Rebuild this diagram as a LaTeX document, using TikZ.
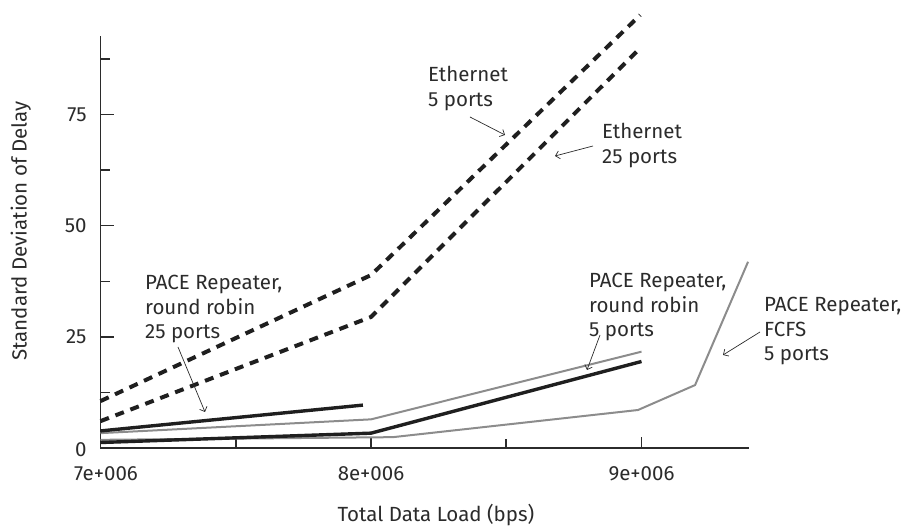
\documentclass[tikz,border=0pt]{standalone}
\usepackage{fontspec}
\setmainfont{Fira Sans}
\usepackage{xcolor}
\usetikzlibrary{arrows.meta}
\usetikzlibrary{calc}

\definecolor{inkgray}{HTML}{2B2B2B}
\definecolor{lightcurve}{HTML}{8C8C8C}

\begin{document}
\begin{tikzpicture}[x=1pt,y=1pt,
        every node/.style={font=\fontsize{20.5}{24.5}\selectfont, text=inkgray, inner sep=0pt},
        axisline/.style={line width=1.6pt, color=inkgray},
        ethline/.style={line width=4pt, dash pattern=on 9pt off 7pt, color=black!88},
        darkcurve/.style={line width=3.4pt, color=black!88},
        greycurve/.style={line width=2pt, color=lightcurve},
        pointer/.style={line width=0.7pt, color=inkgray, -{Straight Barb[length=4pt,width=8pt]}}]
        \newcommand{\delaychartox}{100.5}
        \newcommand{\delaychartoy}{80.7}
        \newcommand{\delaychartxunit}{270.5pt}
        \newcommand{\delaychartyunit}{4.452pt}
        \newcommand{\delaychartxend}{2.398}
        \newcommand{\delaychartyend}{92.5}
        \newcommand{\delaychartmajortick}{13pt}
        \newcommand{\delaychartminortick}{9pt}
        \useasboundingbox (0,0) rectangle (903,529);
        \begin{scope}[shift={(\delaychartox,\delaychartoy)}, x=\delaychartxunit, y=\delaychartyunit]
            \draw[axisline] (0,\delaychartyend) -- (0,0) -- (\delaychartxend,0);
            \foreach \ytick in {25,50,75} {
                \draw[axisline] (0,\ytick) -- ++(\delaychartmajortick,0);
                \node[anchor=east] (ylab\ytick) at ($(0,\ytick)+(-13.8pt,0)$) {\ytick};
            }
            \foreach \ytick in {12.5,37.5,62.5,87.5}
                \draw[axisline] (0,\ytick) -- ++(\delaychartminortick,0);
            \node[anchor=east] (ylab0) at ($(0,0)+(-13.8pt,-1pt)$) {0};
            \foreach \xtick in {1,2}
                \draw[axisline] (\xtick,0) -- ++(0,11pt);
            \foreach \xtick in {0.5,1.5}
                \draw[axisline] (\xtick,0) -- ++(0,9pt);
            \node[anchor=north] (xlab7) at ($(0,0)+(5.5pt,-18pt)$) {7e+006};
            \node[anchor=north] (xlab8) at ($(1,0)+(0,-18pt)$) {8e+006};
            \node[anchor=north] (xlab9) at ($(2,0)+(0,-18pt)$) {9e+006};
            \draw[ethline] (0,10.6) -- (1,38.9) -- (1.995,97.3);
            \draw[ethline] (0,6.1) -- (1,29.5) -- (1.995,89.9);
            \draw[greycurve] (0,3.4) -- (1,6.5) -- (2,21.7);
            \draw[greycurve] (0,1.9) -- (1.081,2.5) -- (1.987,8.6) -- (2.198,14.2) -- (2.394,41.9);
            \draw[darkcurve] (0,3.9) -- (0.97,9.7);
            \draw[darkcurve] (0,1.3) -- (1,3.4) -- (2,19.5);
        \end{scope}
        \node[anchor=base, rotate=90] (ytitle) at (26.7,298) {Standard Deviation of Delay};
        \node[anchor=base] (xtitle) at (436,7.3) {Total Data Load (bps)};
        \node[anchor=north west, align=left] (ethfivelabel) at (428,463) {Ethernet\\5 ports};
        \node[anchor=north west, align=left] (ethtwentyfivelabel) at (602,406) {Ethernet\\25 ports};
        \node[anchor=north west, align=left] (rrtwentyfivelabel) at (145,254) {PACE Repeater,\\round robin\\25 ports};
        \node[anchor=north west, align=left] (rrfivelabel) at (589,256) {PACE Repeater,\\round robin\\5 ports};
        \node[anchor=north west, align=left] (fcfslabel) at (764,232) {PACE Repeater,\\FCFS\\5 ports};
        \coordinate (ethfivefrom) at (470,412);
        \coordinate (ethfiveto) at (505,394);
        \coordinate (ethtwentyfivefrom) at (593,383);
        \coordinate (ethtwentyfiveto) at (555,373);
        \coordinate (rrtwentyfivefrom) at (178,182);
        \coordinate (rrtwentyfiveto) at (205,117);
        \coordinate (rrfivefrom) at (600,194);
        \coordinate (rrfiveto) at (587,159);
        \coordinate (fcfsfrom) at (760,197);
        \coordinate (fcfsto) at (723,174);
        \draw[pointer] (ethfivefrom) -- (ethfiveto);
        \draw[pointer] (ethtwentyfivefrom) -- (ethtwentyfiveto);
        \draw[pointer] (rrtwentyfivefrom) -- (rrtwentyfiveto);
        \draw[pointer] (rrfivefrom) -- (rrfiveto);
        \draw[pointer] (fcfsfrom) -- (fcfsto);
    \end{tikzpicture}
\end{document}
